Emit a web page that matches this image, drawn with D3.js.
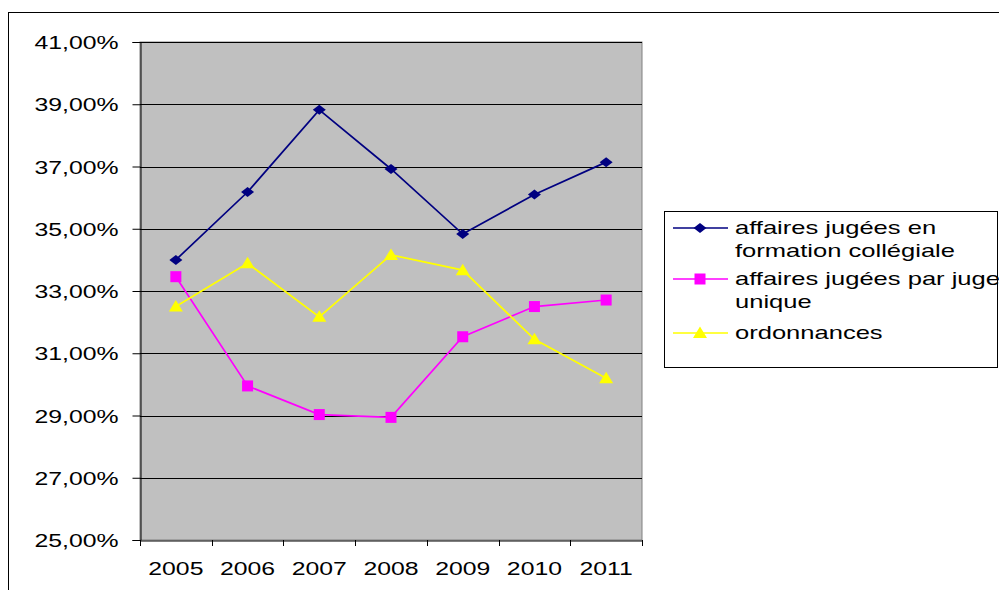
<!DOCTYPE html>
<html><head><meta charset="utf-8">
<script src="https://cdn.jsdelivr.net/npm/d3@7/dist/d3.min.js"></script>
<style>body{margin:0;background:#fff}svg{display:block;font-family:"Liberation Sans",Arial,sans-serif}</style>
</head><body><svg id="c" width="999" height="590"></svg>
<script>
const years = ["2005","2006","2007","2008","2009","2010","2011"];
const collegiale = [34.00, 36.18, 38.82, 36.92, 34.83, 36.10, 37.14];
const jugeUnique = [33.46, 29.95, 29.03, 28.94, 31.53, 32.50, 32.71];
const ordonnances = [32.50, 33.89, 32.17, 34.16, 33.67, 31.45, 30.20];
const yTicks = [25, 27, 29, 31, 33, 35, 37, 39, 41];
const seriesNames = ["affaires jugées en|formation collégiale", "affaires jugées par juge|unique", "ordonnances"];

const svg = d3.select("#c");
svg.append("rect").attr("x",8.5).attr("y",12.5).attr("width",1100).attr("height",700)
  .attr("fill","#fff").attr("stroke","#000").attr("stroke-width",1);

const L=140, R=642, T=42, B=540;
const x = d3.scaleBand().domain(years).range([L,R]);
const y = d3.scaleLinear().domain([25,41]).range([B,T]);

svg.append("rect").attr("x",L).attr("y",T).attr("width",R-L).attr("height",B-T)
  .attr("fill","#c0c0c0").attr("stroke","#808080").attr("stroke-width",1);

// gridlines
svg.append("g").selectAll("line").data(yTicks.slice(1)).join("line")
  .attr("x1",L).attr("x2",R).attr("y1",d=>Math.round(y(d))+0.5).attr("y2",d=>Math.round(y(d))+0.5)
  .attr("stroke","#000").attr("stroke-width",1);

// y axis
const yAxis = svg.append("g").attr("transform",`translate(${L+0.5},0)`)
  .call(d3.axisLeft(y).tickValues(yTicks).tickSize(8).tickPadding(14)
    .tickFormat(d=>d3.format(".2f")(d).replace(".",",")+"%"));
yAxis.select(".domain").attr("stroke","#000");
yAxis.selectAll(".tick line").attr("stroke","#000");
yAxis.selectAll("text").attr("font-size",18.5).attr("fill","#000").attr("dy","0.36em").attr("class","st");

// x axis
const xAxis = svg.append("g").attr("transform",`translate(0,${B+0.5})`)
  .call(d3.axisBottom(x).tickSize(0).tickPadding(21));
xAxis.select(".domain").attr("stroke","#000");
xAxis.selectAll("text").attr("font-size",18.5).attr("fill","#000").attr("class","st");
svg.append("g").selectAll("line").data(d3.range(years.length+1)).join("line")
  .attr("x1",i=>Math.round(L+i*x.step())+0.5).attr("x2",i=>Math.round(L+i*x.step())+0.5)
  .attr("y1",B).attr("y2",B+6).attr("stroke","#000");

const cx = d => x(d)+x.bandwidth()/2;
const series = [
  {vals:collegiale, color:"#000080", shape:"diamond"},
  {vals:jugeUnique, color:"#ff00ff", shape:"square"},
  {vals:ordonnances, color:"#ffff00", shape:"triangle"}
];
function marker(g, shape, color, px, py){
  if(shape==="diamond") g.append("path").attr("d",`M${px-6.5},${py}L${px},${py-5}L${px+6.5},${py}L${px},${py+5}Z`).attr("fill",color);
  else if(shape==="square") g.append("rect").attr("x",px-5.5).attr("y",py-5.5).attr("width",11).attr("height",11).attr("fill",color);
  else g.append("path").attr("d",`M${px},${py-6.5}L${px+7},${py+5}L${px-7},${py+5}Z`).attr("fill",color);
}
const line = d3.line().x((d,i)=>cx(years[i])).y(d=>y(d));
series.forEach(s=>{
  const g = svg.append("g");
  g.append("path").attr("d",line(s.vals)).attr("fill","none").attr("stroke",s.color).attr("stroke-width",1.7);
  s.vals.forEach((v,i)=>marker(g,s.shape,s.color,cx(years[i]),y(v)));
});

// legend
const lg = svg.append("g");
lg.append("rect").attr("x",664.5).attr("y",211.5).attr("width",333).attr("height",156)
  .attr("fill","#fff").attr("stroke","#000");
const rowY = [228, 279, 333];
series.forEach((s,i)=>{
  lg.append("line").attr("x1",673).attr("x2",728).attr("y1",rowY[i]).attr("y2",rowY[i]).attr("stroke",s.color).attr("stroke-width",1.7);
  marker(lg,s.shape,s.color,700,rowY[i]);
  const parts = seriesNames[i].split("|");
  parts.forEach((p,j)=>{
    lg.append("text").attr("x",735).attr("y",rowY[i]+6+j*23).attr("font-size",18.5).attr("fill","#000").attr("class","lt").text(p);
  });
});

// horizontally stretched text, like the reference rendering
svg.selectAll("text.st").each(function(){
  const w = this.getComputedTextLength();
  d3.select(this).attr("textLength", w*1.34).attr("lengthAdjust","spacingAndGlyphs");
});
svg.selectAll("text.lt").each(function(){
  const w = this.getComputedTextLength();
  d3.select(this).attr("textLength", w*1.38).attr("lengthAdjust","spacingAndGlyphs");
});
</script></body></html>
